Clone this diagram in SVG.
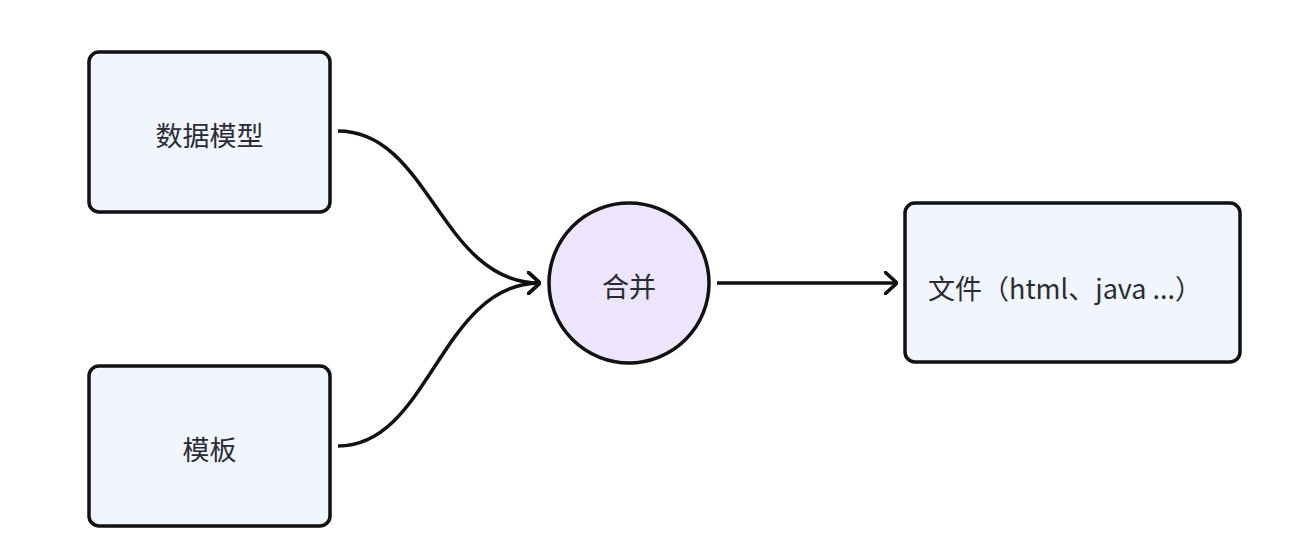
<svg xmlns="http://www.w3.org/2000/svg" width="1294" height="552" viewBox="0 0 1294 552">
<style>
.box{fill:#f1f5fe;stroke:#111;stroke-width:3.5}
.circ{fill:#ece5fc;stroke:#111;stroke-width:3.5}
.lbl{font-family:"Noto Sans CJK SC","Noto Sans",sans-serif;font-size:27px;font-weight:400;fill:#2b2b35;dominant-baseline:central}
.edge{fill:none;stroke:#111;stroke-width:3.5}
</style>
<defs>
<marker id="arr" viewBox="0 0 14 24" refX="13" refY="12" markerWidth="14" markerHeight="24" markerUnits="userSpaceOnUse" orient="auto">
<path d="M1,1 L13,12 L1,23" fill="none" stroke="#111" stroke-width="3.5" stroke-linecap="round" stroke-linejoin="round"/>
</marker>
</defs>
<rect width="1294" height="552" fill="#ffffff"/>
<g id="connectors">
<path class="edge" d="M338,131 C430,131 440,283 540,283" marker-end="url(#arr)"/>
<path class="edge" d="M338,446 C430,446 440,283 540,283" marker-end="url(#arr)"/>
<path class="edge" d="M717,283 L897,283" marker-end="url(#arr)"/>
</g>
<g id="node-model">
<rect class="box" x="89" y="52" width="241" height="160" rx="10"/>
<text class="lbl" x="209.5" y="134" text-anchor="middle">数据模型</text>
</g>
<g id="node-template">
<rect class="box" x="89" y="366" width="241" height="160" rx="10"/>
<text class="lbl" x="209.5" y="448" text-anchor="middle">模板</text>
</g>
<g id="node-merge">
<circle class="circ" cx="629" cy="283" r="80"/>
<text class="lbl" x="629" y="285" text-anchor="middle" font-size="26">合并</text>
</g>
<g id="node-file">
<rect class="box" x="905" y="203" width="335" height="159" rx="10"/>
<text class="lbl" x="928" y="287">文件（html、java ...）</text>
</g>
</svg>
